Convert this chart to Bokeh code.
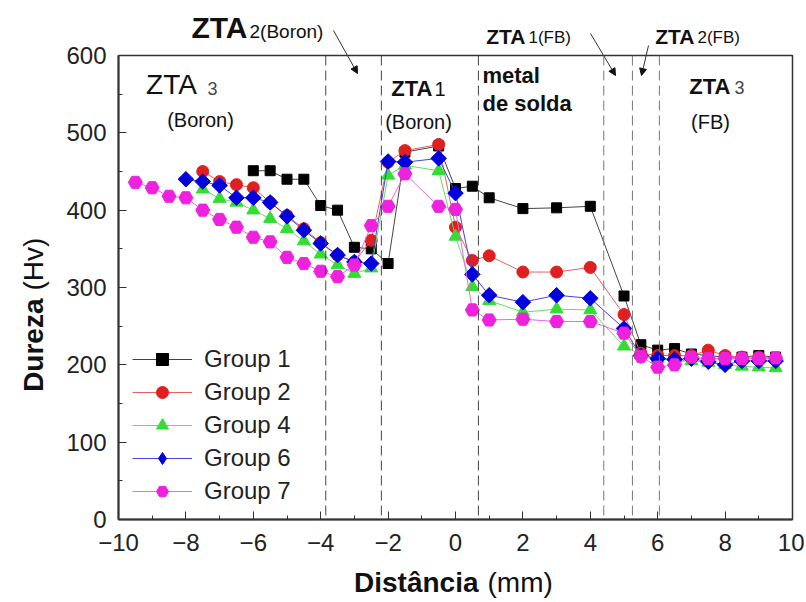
from math import pi
from bokeh.plotting import figure
from bokeh.layouts import column
from bokeh.models import (Span, Label, Arrow, NormalHead, SingleIntervalTicker,
                          Legend, LegendItem, Range1d)
from bokeh.embed import file_html
from bokeh.resources import INLINE

# ---------------- data ----------------
x1 = [-6, -5.5, -5, -4.5, -4, -3.5, -3, -2.5, -2, -1.5, -0.5, 0, 0.5, 1, 2, 3, 4,
      5, 5.5, 6, 6.5, 7, 7.5, 8, 8.5, 9, 9.5]
y1 = [451, 451, 440, 440, 406, 400, 352, 350, 331, 475, 483, 428, 431, 416, 402, 403, 405,
      289, 226, 219, 221, 214, 212, 210, 210, 212, 210]

x2 = [-7.5, -7, -6.5, -6, -5.5, -5, -4.5, -4, -3.5, -3, -2.5, -2, -1.5, -0.5, 0, 0.5, 1, 2, 3, 4,
      5, 5.5, 6, 6.5, 7, 7.5, 8, 8.5, 9, 9.5]
y2 = [450, 437, 433, 429, 410, 393, 376, 358, 342, 333, 361, 462, 477, 485, 378, 335, 341, 320, 320, 326,
      265, 215, 212, 212, 212, 219, 212, 210, 210, 208]

x4 = [-7.5, -7, -6.5, -6, -5.5, -5, -4.5, -4, -3.5, -3, -2.5, -2, -1.5, -0.5, 0, 0.5, 1, 2, 3, 4,
      5, 5.5, 6, 6.5, 7, 7.5, 8, 8.5, 9, 9.5]
y4 = [427, 415, 410, 400, 389, 376, 360, 343, 329, 318, 325, 445, 458, 451, 366, 301, 283, 268, 272, 271,
      224, 213, 208, 205, 205, 203, 200, 198, 197, 196]

x6 = [-8, -7.5, -7, -6.5, -6, -5.5, -5, -4.5, -4, -3.5, -3, -2.5, -2, -1.5, -0.5, 0, 0.5, 1, 2, 3, 4,
      5, 5.5, 6, 6.5, 7, 7.5, 8, 8.5, 9, 9.5]
y6 = [440, 437, 432, 416, 416, 410, 392, 374, 357, 342, 333, 331, 463, 462, 467, 422, 317, 290, 281, 290, 286,
      247, 212, 208, 207, 208, 204, 200, 205, 205, 205]

x7 = [-9.5, -9, -8.5, -8, -7.5, -7, -6.5, -6, -5.5, -5, -4.5, -4, -3.5, -3, -2.5, -2, -1.5, -0.5, 0,
      0.5, 1, 2, 3, 4, 5, 5.5, 6, 6.5, 7, 7.5, 8, 8.5, 9, 9.5]
y7 = [436, 429, 418, 416, 400, 388, 378, 365, 359, 339, 331, 321, 314, 329, 380, 405, 447, 405, 401,
      271, 258, 259, 256, 256, 241, 211, 197, 200, 210, 208, 208, 208, 208, 209]

series_names = ["Group 1", "Group 2", "Group 4", "Group 6", "Group 7"]
zone_bounds = [-3.85, -2.2, 0.68, 4.4, 5.25, 6.05]

FONT = "Liberation Sans"
W, H = 804, 600

# ---------- background layer: all free texts and arrows (pixel coordinates) ----------
t = figure(width=W, height=H, x_range=Range1d(0, W), y_range=Range1d(H, 0),
           output_backend="svg", toolbar_location=None, x_axis_type=None, y_axis_type=None,
           min_border=0, min_border_left=0, min_border_right=0, min_border_top=0, min_border_bottom=0)
t.frame_align = False
t.title.visible = False
t.xgrid.visible = False
t.ygrid.visible = False
t.outline_line_alpha = 0
t.background_fill_color = "white"
t.border_fill_color = "white"

SHIFT = 0.34  # compensates the renderer's baseline offset (in em)


def lab(x, y, text, size, bold=False, align="left", angle=0, color="#111111"):
    if angle:
        x = x - SHIFT * size
    else:
        y = y - SHIFT * size
    t.add_layout(Label(x=x, y=y, text=text, text_font=FONT, text_font_size=f"{size}px",
                       text_font_style="bold" if bold else "normal", text_align=align,
                       text_baseline="alphabetic", angle=angle, text_color=color))


# above the frame
lab(247, 37, "ZTA", 30, True, "right")
lab(249, 37, "2(Boron)", 19)
lab(525, 43, "ZTA", 21, True, "right")
lab(528, 43, "1(FB)", 17)
lab(694, 43, "ZTA", 21, True, "right")
lab(697, 43, "2(FB)", 17)
# zone names inside the frame
lab(171, 94, "ZTA", 28, False, "center")
lab(207, 94, "3", 18, color="#444444")
lab(200, 126, "(Boron)", 20, False, "center")
lab(432, 95, "ZTA", 22, True, "right")
lab(434, 95, "1", 20)
lab(418, 128, "(Boron)", 20, False, "center")
lab(482, 82, "metal", 22, True)
lab(482, 110, "de solda", 22, True)
lab(730, 93, "ZTA", 22, True, "right")
lab(734, 93, "3", 18, color="#444444")
lab(710, 128, "(FB)", 20, False, "center")
# axis titles
lab(478, 592, "Distância", 28, True, "right")
lab(487, 592, "(mm)", 28)
lab(43, 298, "Dureza", 28, True, "right", angle=pi / 2)
lab(43, 290, "(Hv)", 28, False, "left", angle=pi / 2)

for xs_, ys_, xe, ye in [(333, 30, 357, 73), (590, 33, 615, 75), (648, 45, 641, 75)]:
    t.add_layout(Arrow(end=NormalHead(size=7, fill_color="#111111", line_color="#111111"),
                       x_start=xs_, y_start=ys_, x_end=xe, y_end=ye,
                       line_color="#333333", line_width=1))

# ---------- main chart layer (transparent, laid over the text layer) ----------
p = figure(width=W, height=H, x_range=Range1d(-10, 10), y_range=Range1d(0, 600),
           output_backend="svg", toolbar_location=None,
           min_border_left=118, min_border_right=12, min_border_top=55, min_border_bottom=81)
p.frame_align = False
p.margin = (-H, 0, 0, 0)
p.title.visible = False
p.background_fill_alpha = 0
p.border_fill_alpha = 0
p.xgrid.visible = False
p.ygrid.visible = False
p.outline_line_color = "#333333"
p.outline_line_width = 1.5
p.outline_line_alpha = 1.0

p.xaxis.ticker = SingleIntervalTicker(interval=2, num_minor_ticks=2)
p.yaxis.ticker = SingleIntervalTicker(interval=100, num_minor_ticks=2)
for ax in (p.xaxis, p.yaxis):
    ax.axis_line_width = 2
    ax.axis_line_color = "#333333"
    ax.major_tick_in = 8
    ax.major_tick_out = 0
    ax.minor_tick_in = 4
    ax.minor_tick_out = 0
    ax.major_tick_line_color = "#333333"
    ax.minor_tick_line_color = "#333333"
    ax.major_label_text_font = FONT
    ax.major_label_text_font_size = "24px"
    ax.major_label_text_color = "#222222"
p.xaxis.major_label_standoff = 14
p.yaxis.major_label_standoff = 12

for i, b in enumerate(zone_bounds):
    p.add_layout(Span(location=b, dimension="height", line_color="#444444" if i < 3 else "#777777",
                      line_width=1, line_dash="10 5"))

styles = [
    dict(marker="square", size=10, color="#000000", line="#444444", angle=0, leg="square", lsize=10),
    dict(marker="circle", size=12, color="#e02020", line="#e86060", angle=0, leg="circle", lsize=12),
    dict(marker="triangle", size=13, color="#33dd33", line="#66dd66", angle=0, leg="triangle", lsize=13),
    dict(marker="square", size=11, color="#0000dd", line="#4444dd", angle=pi / 4, leg="diamond", lsize=17),
    dict(marker="hex", size=14, color="#ee22dd", line="#ee66e0", angle=0, leg="hex", lsize=14),
]
xs = [x1, x2, x4, x6, x7]
ys = [y1, y2, y4, y6, y7]

items = []
for name, xx, yy, st in zip(series_names, xs, ys, styles):
    lr = p.line(xx, yy, line_color=st["line"], line_width=1)
    sr = p.scatter(xx, yy, marker=st["marker"], size=st["size"], angle=st["angle"],
                   fill_color=st["color"], line_color=st["color"], line_width=1)
    rr = [lr, sr]
    if st["angle"]:
        lg = p.scatter(xx, yy, marker=st["leg"], size=st["lsize"],
                       fill_color=st["color"], line_color=st["color"], visible=False)
        rr = [lr, lg]
    items.append(LegendItem(label=name, renderers=rr))

legend = Legend(items=items, location=(14, 13), label_text_font=FONT, label_text_font_size="24px",
                label_text_color="#222222", glyph_width=60, glyph_height=30, label_height=30,
                spacing=3, padding=0, margin=0, label_standoff=12,
                background_fill_alpha=0, border_line_alpha=0)
p.add_layout(legend)

layout = column(t, p, spacing=0)
open("out.html", "w").write(file_html(layout, INLINE))
